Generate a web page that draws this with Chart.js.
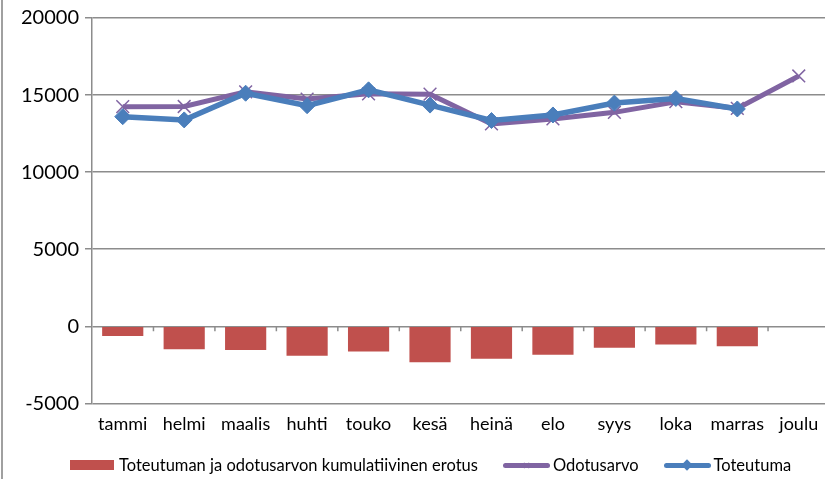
<!DOCTYPE html>
<html>
<head>
<meta charset="utf-8">
<script src="https://cdn.jsdelivr.net/npm/chart.js@4"></script>
<style>
  html, body { margin: 0; padding: 0; background: #fff; overflow: hidden; }
  #wrap { position: relative; width: 840px; height: 479px; }
  #frame { position: absolute; left: 1px; top: 0; width: 2px; height: 479px; background: #a0a0a0; }
  #legend { position: absolute; left: 70px; top: 454px; height: 22px; display: flex; align-items: center;
            font-family: Lato, sans-serif; font-size: 16.5px; color: #000; white-space: nowrap; }
  .item { display: flex; align-items: center; margin-right: 25px; }
  .swatch { position: relative; width: 44px; height: 10px; margin-right: 5px; }
  .line { position: relative; width: 47px; height: 5px; margin-right: 3px; border-radius: 3px; }
  .mark { position: absolute; left: 50%; top: 50%; transform: translate(-50%, -50%); font-size: 13px; line-height: 1; }
  .diamond { position: absolute; left: 50%; top: 50%; width: 8px; height: 8px; transform: translate(-50%, -50%) rotate(45deg); }
</style>
</head>
<body>
<div id="wrap">
  <canvas id="chart" width="840" height="479"></canvas>
  <div id="frame"></div>
  <div id="legend"></div>
</div>
<script>
const months = ['tammi', 'helmi', 'maalis', 'huhti', 'touko', 'kesä', 'heinä', 'elo', 'syys', 'loka', 'marras', 'joulu'];
const erotus = [-620, -1480, -1540, -1910, -1630, -2330, -2100, -1840, -1390, -1180, -1290, null];
const odotusarvo = [14250, 14260, 15210, 14740, 15080, 15060, 13130, 13450, 13880, 14570, 14140, 16240];
const toteutuma = [13600, 13390, 15120, 14310, 15340, 14350, 13350, 13710, 14480, 14780, 14100, null];
const yTicks = [-5000, 0, 5000, 10000, 15000, 20000];

const gridGrey = '#8c8c8c';

// small tick marks on the zero line between the months
const zeroTicks = {
    id: 'zeroTicks',
    afterDatasetsDraw(chart) {
        const x = chart.scales.x, y = chart.scales.y;
        const ctx = chart.ctx;
        const y0 = y.getPixelForValue(0);
        ctx.save();
        ctx.strokeStyle = gridGrey;
        ctx.lineWidth = 1.5;
        ctx.beginPath();
        for (let i = 1; i < months.length; i++) {
            const px = (x.getPixelForValue(i - 1) + x.getPixelForValue(i)) / 2;
            ctx.moveTo(px, y0);
            ctx.lineTo(px, y0 + 5);
        }
        ctx.stroke();
        ctx.restore();
    }
};

const myChart = new Chart(document.getElementById('chart').getContext('2d'), {
    type: 'bar',
    data: {
        labels: months,
        datasets: [{
            type: 'bar',
            label: 'Toteutuman ja odotusarvon kumulatiivinen erotus',
            data: erotus,
            backgroundColor: '#c0504d',
            borderWidth: 0,
            barPercentage: 0.67,
            categoryPercentage: 1,
            order: 3
        }, {
            type: 'line',
            label: 'Odotusarvo',
            data: odotusarvo,
            borderColor: '#8064a2',
            backgroundColor: '#8064a2',
            borderWidth: 5,
            pointStyle: 'crossRot',
            pointRadius: 9,
            pointBorderWidth: 1.5,
            pointBorderColor: '#8064a2',
            tension: 0,
            order: 2
        }, {
            type: 'line',
            label: 'Toteutuma',
            data: toteutuma,
            borderColor: '#4a7ebb',
            backgroundColor: '#4a7ebb',
            borderWidth: 5.5,
            pointStyle: 'rectRot',
            pointRadius: 8,
            pointBorderWidth: 1,
            pointBorderColor: '#4a7ebb',
            tension: 0,
            order: 1
        }]
    },
    options: {
        responsive: false,
        animation: false,
        devicePixelRatio: 1,
        layout: { padding: { top: 6, right: 8, left: 0, bottom: 34 } },
        plugins: {
            tooltip: { enabled: false },
            legend: { display: false }
        },
        scales: {
            x: {
                offset: true,
                grid: { display: false, drawTicks: false },
                border: { display: false },
                ticks: { color: '#000', font: { family: 'Lato', size: 18 }, padding: 10, maxRotation: 0, autoSkip: false }
            },
            y: {
                min: -5000,
                max: 20000,
                afterBuildTicks(scale) {
                    scale.ticks = yTicks.map(v => ({ value: v }));
                },
                afterFit(scale) { scale.width = 92; },
                grid: { color: gridGrey, lineWidth: 1.5, tickLength: 7, tickColor: gridGrey },
                border: { color: gridGrey, width: 1.5 },
                ticks: {
                    color: '#000',
                    font: { family: 'Lato', size: 20 },
                    padding: 6,
                    callback: v => String(v)
                }
            }
        }
    },
    plugins: [zeroTicks]
});

// legend in html, built from the datasets
const legend = document.getElementById('legend');
myChart.data.datasets.forEach(ds => {
    const item = document.createElement('span');
    item.className = 'item';
    const sw = document.createElement('span');
    if (ds.type === 'bar') {
        sw.className = 'swatch';
        sw.style.background = ds.backgroundColor;
    } else {
        sw.className = 'line';
        sw.style.background = ds.borderColor;
        const m = document.createElement('span');
        if (ds.pointStyle === 'rectRot') {
            m.className = 'diamond';
            m.style.background = ds.borderColor;
        } else {
            m.className = 'mark';
            m.style.color = ds.borderColor;
            m.textContent = '×';
        }
        sw.appendChild(m);
    }
    const txt = document.createElement('span');
    txt.textContent = ds.label;
    item.appendChild(sw);
    item.appendChild(txt);
    legend.appendChild(item);
});
</script>
</body>
</html>
